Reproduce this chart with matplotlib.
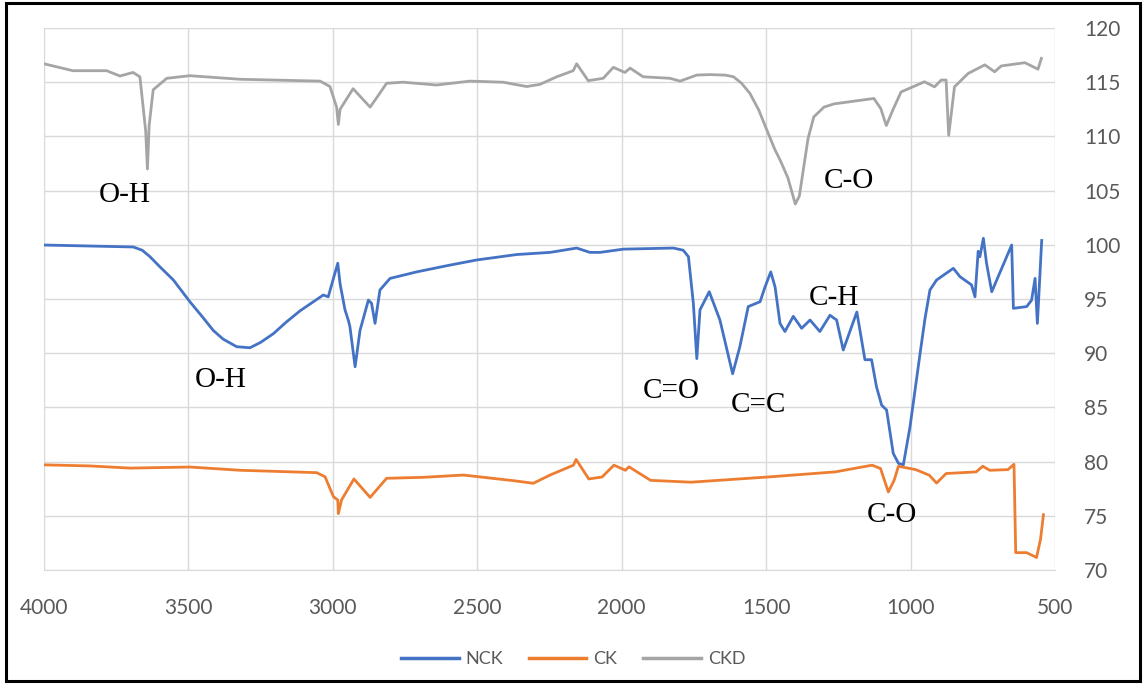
import matplotlib
matplotlib.use("Agg")
import matplotlib.pyplot as plt
from matplotlib.patches import Rectangle

# ---- data (wavenumber, %T) ----
nck_x = [4000, 3691, 3660, 3633, 3600, 3552, 3495, 3450, 3414, 3380, 3333, 3287, 3250, 3206, 3160,
         3114, 3070, 3033, 3016, 2998, 2983, 2975,
         2958, 2946, 2941, 2923, 2906, 2877, 2866, 2854, 2837, 2802, 2710, 2600, 2502, 2364, 2248, 2156,
         2110, 2075, 1994, 1821, 1787, 1769, 1752, 1740, 1729, 1697, 1660, 1616, 1591, 1562, 1521,
         1504, 1484, 1469, 1452, 1435, 1406, 1377, 1348, 1314, 1279, 1256, 1233, 1186, 1158, 1135,
         1118, 1100, 1083, 1060, 1042, 1025, 1002, 985, 967, 950, 933, 910, 852, 829, 789, 777, 766, 760, 748,
         737, 719, 650, 644, 598, 581, 569, 561, 546]
nck_y = [99.98, 99.8, 99.5, 98.9, 98.0, 96.75, 94.75, 93.3, 92.1, 91.3, 90.6, 90.5, 91.0, 91.8, 92.9,
         93.9, 94.7, 95.37, 95.2, 96.9, 98.3, 96.4,
         94.0, 93.0, 92.45, 88.75, 92.1, 94.9, 94.6, 92.75, 95.83, 96.9, 97.5, 98.1, 98.6, 99.1, 99.3, 99.7,
         99.3, 99.3, 99.6, 99.7, 99.5, 98.9, 94.6, 89.5, 94.0, 95.67, 93.06, 88.1, 90.6, 94.3, 94.75,
         96.1, 97.5, 96.1, 92.75, 92.0, 93.4, 92.3, 93.06, 92.0, 93.5, 93.06, 90.3, 93.8, 89.4, 89.4,
         86.9, 85.2, 84.76, 80.76, 79.84, 79.7, 83.2, 86.5, 90.0, 93.2, 95.83, 96.75, 97.83, 97.06, 96.3, 95.2, 99.4, 98.9, 100.6,
         98.3, 95.67, 99.98, 94.14, 94.3, 94.9, 96.9, 92.75, 100.4]

ck_x = [4000, 3841, 3702, 3495, 3321, 3056, 3027, 2998, 2983, 2981, 2970, 2927, 2871, 2814, 2687,
        2548, 2375, 2306, 2248, 2167, 2158, 2114, 2068, 2027, 1987, 1975, 1900, 1760, 1494, 1261,
        1133, 1104, 1077, 1057, 1042, 982, 935, 910, 877, 773, 750, 726, 663, 642, 636, 598, 564,
        550, 540]
ck_y = [79.7, 79.6, 79.4, 79.5, 79.2, 78.98, 78.6, 76.76, 76.46, 75.2, 76.46, 78.4, 76.7, 78.46, 78.55,
        78.76, 78.24, 78.0, 78.76, 79.67, 80.2, 78.4, 78.58, 79.67, 79.2, 79.52, 78.27, 78.1, 78.58, 79.05,
        79.67, 79.36, 77.2, 78.27, 79.57, 79.26, 78.74, 78.02, 78.9, 79.05, 79.57, 79.2, 79.26, 79.75, 71.6,
        71.6, 71.15, 72.85, 75.1]

ckd_x = [4000, 3900, 3783, 3737, 3692, 3668, 3648, 3642, 3636, 3622, 3575, 3495, 3321, 3044, 3010,
         2987, 2981, 2975, 2930, 2871, 2837, 2814, 2757, 2641, 2525, 2411, 2329, 2283, 2225, 2168,
         2156, 2116, 2064, 2029, 1989, 1971, 1926, 1833, 1798, 1740, 1694, 1640, 1613, 1585, 1556,
         1525, 1497, 1470, 1451, 1425, 1399, 1385, 1370, 1355, 1335, 1300, 1265, 1127, 1103, 1084,
         1062, 1033, 952, 917, 894, 877, 868, 848, 801, 743, 709, 686, 604, 559, 547]
ckd_y = [116.7, 116.06, 116.06, 115.57, 115.9, 115.5, 110.5, 107.0, 111.0, 114.3, 115.36, 115.6, 115.27, 115.1, 114.6,
         112.7, 111.1, 112.5, 114.4, 112.7, 114.0, 114.9, 115.0, 114.74, 115.1, 115.0, 114.6, 114.8, 115.5, 116.06,
         116.7, 115.14, 115.36, 116.37, 115.9, 116.3, 115.5, 115.36, 115.1, 115.66, 115.7, 115.65, 115.5, 114.9, 113.96,
         112.4, 110.55, 108.8, 107.78, 106.2, 103.76, 104.5, 107.16, 109.8, 111.8, 112.7, 113.0, 113.5, 112.56, 111.0,
         112.4, 114.1, 115.04, 114.57, 115.2, 115.2, 110.1, 114.57, 115.8, 116.6, 115.96, 116.5, 116.8, 116.2, 117.2]

series_names = ["NCK", "CK", "CKD"]
series_colors = ["#4472C4", "#ED7D31", "#A5A5A5"]

x_ticks = [4000, 3500, 3000, 2500, 2000, 1500, 1000, 500]
y_ticks = [70, 75, 80, 85, 90, 95, 100, 105, 110, 115, 120]

annotations = [("O-H", 3720, 104.6), ("C-O", 1213, 105.9),
               ("O-H", 3387, 87.5), ("C=O", 1829, 86.5), ("C=C", 1525, 85.2),
               ("C-H", 1265, 95.1), ("C-O", 1064, 75.1)]

# ---- figure ----
fig = plt.figure(figsize=(11.47, 6.84), dpi=100)
ax = fig.add_axes([44 / 1147, 1 - 570 / 684, (1055 - 44) / 1147, (570 - 28) / 684])

for xs, ys, name, col in zip([nck_x, ck_x, ckd_x], [nck_y, ck_y, ckd_y], series_names, series_colors):
    ax.plot(xs, ys, color=col, lw=2.0, label=name, solid_joinstyle="round")

ax.set_xlim(4000, 500)
ax.set_ylim(70, 120)
ax.set_xticks(x_ticks)
ax.set_yticks(y_ticks)
ax.yaxis.tick_right()
ax.grid(True, color="#D9D9D9", lw=1.0)
ax.set_axisbelow(True)
for s in ["top", "left", "right"]:
    ax.spines[s].set_visible(False)
ax.spines["bottom"].set_color("#D9D9D9")
ax.tick_params(axis="both", length=0, labelsize=15, labelcolor="#595959")
ax.tick_params(axis="x", pad=20)
ax.tick_params(axis="y", pad=21)
for lab in ax.get_xticklabels() + ax.get_yticklabels():
    lab.set_family("Lato")

for txt, xv, yv in annotations:
    ax.text(xv, yv, txt, family="Liberation Serif", fontsize=21, color="black",
            ha="center", va="center")

leg = fig.legend(loc="center", bbox_to_anchor=(573 / 1147, 1 - 659 / 684), ncol=3, frameon=False,
                 prop={"family": "Lato", "size": 13}, handlelength=3.2, columnspacing=1.4,
                 handletextpad=0.4)
for t in leg.get_texts():
    t.set_color("#595959")
for l in leg.get_lines():
    l.set_linewidth(2.5)

fig.patches.append(Rectangle((6 / 1147, 3 / 684), 1134 / 1147, 678 / 684, transform=fig.transFigure,
                             fill=False, edgecolor="black", lw=2.2))

fig.savefig("out.png", dpi=100)
